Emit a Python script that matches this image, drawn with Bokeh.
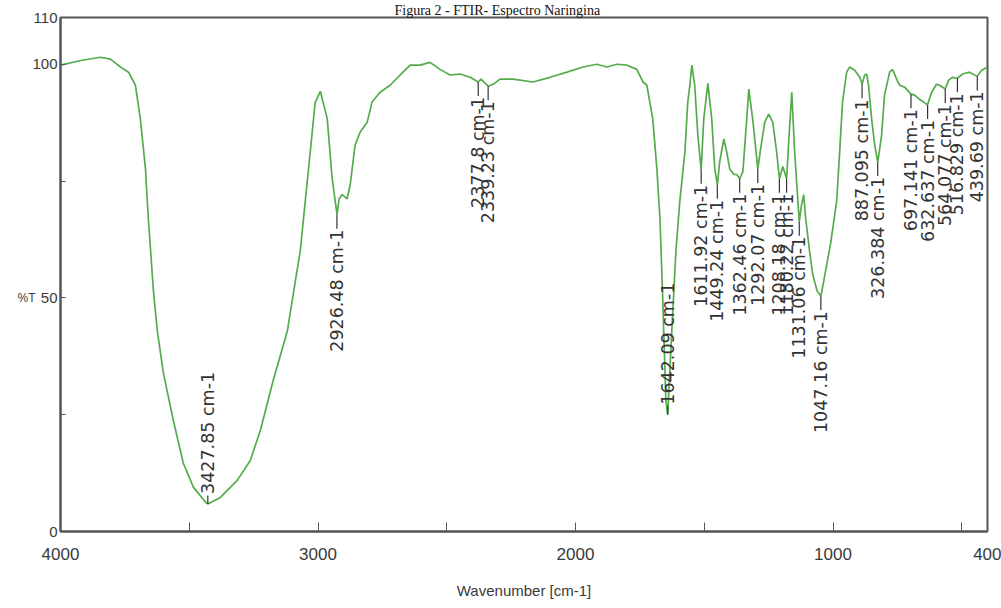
import math
from bokeh.plotting import figure
from bokeh.models import Range1d, FixedTicker, ColumnDataSource, LinearAxis
from bokeh.core.properties import value
from bokeh.embed import file_html
from bokeh.resources import INLINE

# ---- spectrum (wavenumber cm-1, %T) ----
wavenumber = [4000, 3922, 3845, 3806, 3767, 3736, 3709, 3690, 3670, 3659, 3639, 3624, 3600, 3562, 3523,
              3484, 3437, 3428, 3379, 3313, 3263, 3224, 3174, 3119, 3088, 3069, 3030, 3011, 2991, 2964,
              2945, 2926, 2918, 2906, 2887, 2875, 2856, 2836, 2809, 2790, 2759, 2720, 2681, 2642, 2603,
              2565, 2526, 2487, 2448, 2409, 2378, 2367, 2339, 2320, 2293, 2243, 2165, 2099, 2033, 1971,
              1917, 1878, 1839, 1800, 1762, 1738, 1723, 1700, 1684, 1672, 1661, 1649, 1642, 1626, 1610,
              1595, 1575, 1564, 1556, 1548, 1537, 1525, 1512, 1502, 1486, 1471, 1459, 1449, 1440, 1424,
              1413, 1401, 1385, 1374, 1362, 1350, 1335, 1327, 1312, 1292, 1281, 1265, 1250, 1234, 1219,
              1208, 1195, 1180, 1172, 1160, 1149, 1131, 1122, 1114, 1106, 1091, 1079, 1062, 1047, 1036,
              1009, 986, 974, 963, 947, 935, 916, 896, 887, 877, 869, 862, 850, 838, 826,
              811, 800, 780, 769, 753, 741, 722, 697, 683, 664, 633, 617, 598, 586, 564,
              551, 536, 517, 497, 470, 440, 423, 400]
transmittance = [99.8, 100.8, 101.5, 101.1, 99.4, 98.3, 95.5, 88.3, 77.6, 67.0, 51.4, 42.9, 33.8, 23.8, 14.6,
                 9.5, 6.3, 5.9, 7.3, 11.0, 15.2, 21.6, 32.3, 42.9, 53.6, 60.0, 81.3, 91.8, 94.2, 88.3,
                 75.5, 67.8, 71.2, 72.1, 71.2, 74.2, 82.7, 85.5, 87.6, 91.9, 94.0, 95.5, 97.7, 99.8, 99.8,
                 100.4, 98.9, 97.7, 97.9, 97.2, 96.2, 96.8, 95.3, 95.7, 96.8, 96.8, 96.2, 97.2, 98.3, 99.4,
                 100.0, 99.4, 100.0, 99.8, 98.9, 96.2, 95.5, 88.3, 77.6, 67.0, 49.3, 28.0, 25.0, 42.9, 60.0,
                 70.6, 81.3, 91.9, 95.5, 99.8, 95.5, 84.9, 77.4, 88.3, 95.9, 88.3, 77.6, 74.2, 79.1, 84.0,
                 81.3, 77.6, 76.4, 76.4, 75.5, 77.0, 88.3, 94.7, 88.3, 77.6, 81.9, 87.6, 89.3, 87.6, 81.3,
                 75.5, 78.1, 75.5, 83.4, 94.0, 81.3, 66.3, 70.0, 72.1, 67.0, 60.0, 55.1, 51.5, 50.4, 53.6,
                 61.7, 70.6, 81.3, 91.9, 98.3, 99.4, 98.7, 97.2, 95.7, 97.7, 97.9, 95.5, 88.3, 82.7, 79.1,
                 84.9, 93.4, 98.3, 98.9, 96.8, 95.5, 95.1, 93.6, 93.4, 92.5, 91.3, 94.0, 95.7, 95.5, 94.7,
                 96.6, 97.2, 97.0, 97.9, 98.3, 97.4, 98.7, 99.4]

# ---- peak annotations ----
peak_text = ["3427.85 cm-1", "2926.48 cm-1", "2377.8 cm-1", "2339.23 cm-1", "1642.09 cm-1",
             "1611.92 cm-1", "1449.24 cm-1", "1362.46 cm-1", "1292.07 cm-1", "1208.18 cm-1",
             "1180.22 cm-1", "1131.06 cm-1", "1047.16 cm-1", "887.095 cm-1", "326.384 cm-1",
             "697.141 cm-1", "632.637 cm-1", "564.077 cm-1", "516.829 cm-1", "439.69 cm-1"]
peak_pos = [3427.85, 2926.48, 2377.8, 2339.23, 1642.09, 1511.92, 1449.24, 1362.46, 1292.07, 1208.18,
            1180.22, 1131.06, 1047.16, 887.095, 826.384, 697.141, 632.637, 564.077, 516.829, 439.69]
peak_T = [5.9, 67.8, 96.2, 95.3, 25.0, 77.4, 74.2, 75.5, 77.6, 75.5,
          75.5, 66.3, 50.4, 95.7, 79.1, 93.6, 91.3, 94.7, 97.0, 97.4]
peak_above = [True, False, False, False, True, False, False, False, False, False,
              False, False, False, False, False, False, False, False, False, False]

x_ticks = [4000, 3000, 2000, 1000, 400]
x_minor = [3500, 2500, 1500, 500]
y_ticks = [0, 50, 100, 110]
y_minor = [25, 75]
y_title = "%T"
y_title_at = 50

assert len(wavenumber) == len(transmittance)

AXIS_GRAY = "#555555"
SANS = "Liberation Sans"

p = figure(width=1001, height=608, x_range=Range1d(4000, 400), y_range=Range1d(0, 110),
           output_backend="svg", toolbar_location=None,
           min_border_left=60, min_border_right=14, min_border_top=15, min_border_bottom=77)
p.background_fill_color = "white"
p.border_fill_color = "white"
p.outline_line_color = AXIS_GRAY
p.outline_line_width = 2
p.xgrid.visible = False
p.ygrid.visible = False

# caption above the frame
p.title.text = "Figura 2 - FTIR- Espectro Naringina"
p.title.align = "left"
p.title.offset = 334
p.title.standoff = 0
p.title.text_font = "Liberation Serif"
p.title.text_font_size = "14px"
p.title.text_font_style = "normal"
p.title.text_color = "#111111"

p.xaxis.ticker = FixedTicker(ticks=x_ticks, minor_ticks=x_minor)
p.yaxis.ticker = FixedTicker(ticks=y_ticks, minor_ticks=y_minor)
for ax in (p.xaxis, p.yaxis):
    ax.axis_line_color = AXIS_GRAY
    ax.axis_line_width = 2
    ax.major_tick_line_color = AXIS_GRAY
    ax.minor_tick_line_color = AXIS_GRAY
    ax.major_tick_out = 0
    ax.minor_tick_out = 0
    ax.major_label_text_font = SANS
    ax.major_label_text_color = "#3a3a3a"
    ax.axis_label_text_font = SANS
    ax.axis_label_text_font_style = "normal"
    ax.axis_label_text_color = "#3a3a3a"

p.xaxis.major_tick_in = 9
p.xaxis.minor_tick_in = 9
p.yaxis.major_tick_in = 5
p.yaxis.minor_tick_in = 5
p.xaxis.major_label_text_font_size = "17px"
p.xaxis.major_label_standoff = 16
p.xaxis.axis_label = "Wavenumber [cm-1]"
p.xaxis.axis_label_text_font_size = "15px"
p.xaxis.axis_label_standoff = 19
p.yaxis.major_label_text_font_size = "15px"
p.yaxis.major_label_standoff = 3

# "%T" written horizontally at the level of the 50 tick, left of the tick labels
pt_axis = LinearAxis(ticker=FixedTicker(ticks=[y_title_at], minor_ticks=[]),
                     major_label_overrides={y_title_at: y_title},
                     axis_line_color=None, major_tick_line_color=None, minor_tick_line_color=None,
                     major_tick_in=0, major_tick_out=0, major_label_standoff=-6,
                     major_label_text_font=SANS, major_label_text_font_size="12px",
                     major_label_text_color="#3a3a3a")
p.add_layout(pt_axis, "left")

# spectrum
p.line(wavenumber, transmittance, line_color="#55ab4c", line_width=1.7)

# peak markers and labels
below = [i for i, a in enumerate(peak_above) if not a]
above = [i for i, a in enumerate(peak_above) if a]

src_below = ColumnDataSource(dict(
    x=[peak_pos[i] for i in below], y=[peak_T[i] for i in below],
    y1=[peak_T[i] - 3.0 for i in below], text=[peak_text[i] for i in below]))
src_above = ColumnDataSource(dict(
    x=[peak_pos[i] for i in above], y=[peak_T[i] for i in above],
    y1=[peak_T[i] + 1.8 for i in above], text=[peak_text[i] for i in above]))

for src in (src_below, src_above):
    p.segment(x0="x", y0="y", x1="x", y1="y1", line_color="#333333", line_width=1.2, source=src)

p.text(x="x", y="y", text="text", source=src_below, angle=math.pi / 2,
       text_align="right", text_baseline="middle", y_offset=15,
       text_font=value("DejaVu Sans"), text_font_size="17.5px", text_color="#333333")
p.text(x="x", y="y", text="text", source=src_above, angle=math.pi / 2,
       text_align="left", text_baseline="middle", y_offset=-10,
       text_font=value("DejaVu Sans"), text_font_size="17.5px", text_color="#333333")

open("out.html", "w").write(file_html(p, INLINE))
